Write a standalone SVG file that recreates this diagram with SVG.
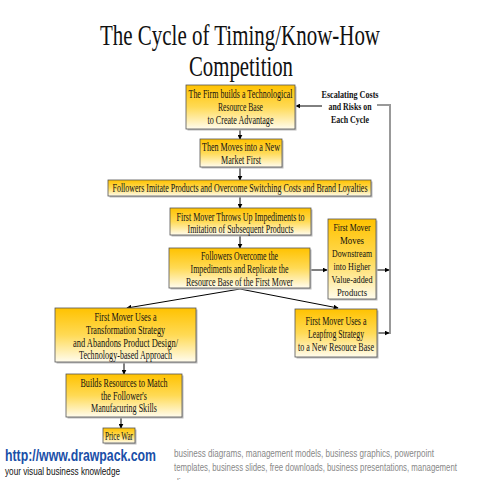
<svg xmlns="http://www.w3.org/2000/svg" width="480" height="480" viewBox="0 0 480 480">
<defs>
<linearGradient id="g" x1="0" y1="0" x2="0" y2="1">
<stop offset="0" stop-color="#FFC200"/>
<stop offset="0.5" stop-color="#FFDA55"/>
<stop offset="1" stop-color="#FFFCEE"/>
</linearGradient>
<marker id="a" viewBox="0 0 8 8" refX="7" refY="4" markerWidth="5" markerHeight="5" orient="auto" markerUnits="userSpaceOnUse">
<path d="M0,0 L8,4 L0,8 z" fill="#000"/>
</marker>
</defs>
<style>
.b{fill:url(#g);stroke:#555;stroke-width:0.8}
.s{fill:#bbb}
.t{font-family:"Liberation Serif","Times New Roman",serif;font-size:11.5px;fill:#111;text-anchor:middle}
.t2{font-family:"Liberation Serif","Times New Roman",serif;font-size:11px;fill:#111;text-anchor:middle}
.lb{font-family:"Liberation Serif","Times New Roman",serif;font-size:10.5px;font-weight:bold;fill:#111;text-anchor:middle}
.c{stroke:#000;stroke-width:1;fill:none;marker-end:url(#a)}
.gl{stroke:#999;stroke-width:2;fill:none}
.f{font-family:"Liberation Sans",Arial,sans-serif;font-size:10px;fill:#888}
</style>
<rect width="480" height="480" fill="#fff"/>
<g id="title">
<text x="240" y="45" font-family="Liberation Serif,serif" font-size="30" text-anchor="middle" textLength="280" lengthAdjust="spacingAndGlyphs" fill="#111">The Cycle of Timing/Know-How</text>
<text x="241" y="76" font-family="Liberation Serif,serif" font-size="30" text-anchor="middle" textLength="104" lengthAdjust="spacingAndGlyphs" fill="#111">Competition</text>
</g>
<g id="connectors">
<polyline class="gl" points="377,105 390,105 390,334"/>
<line class="c" x1="240" y1="129" x2="240" y2="139"/>
<line class="c" x1="240" y1="167" x2="240" y2="180"/>
<line class="c" x1="240" y1="196" x2="240" y2="208"/>
<line class="c" x1="240" y1="235" x2="240" y2="248"/>
<line class="c" x1="310" y1="270" x2="327" y2="270"/>
<line class="c" x1="377" y1="270" x2="389" y2="270"/>
<line class="c" x1="377" y1="333" x2="389" y2="333"/>
<line class="c" x1="322" y1="106" x2="296" y2="106"/>
<line class="c" x1="240" y1="289" x2="127" y2="308"/>
<line class="c" x1="240" y1="289" x2="338" y2="308"/>
<line class="c" x1="124" y1="362" x2="124" y2="374"/>
<line class="c" x1="121" y1="417" x2="121" y2="428"/>
</g>
<g id="n1">
<rect class="s" x="187.5" y="86.5" width="109" height="44"/>
<rect class="b" x="186" y="85" width="109" height="44"/>
<text class="t" x="240.5" y="98" textLength="104" lengthAdjust="spacingAndGlyphs">The Firm builds a Technological</text>
<text class="t" x="240.5" y="111" textLength="45" lengthAdjust="spacingAndGlyphs">Resource Base</text>
<text class="t" x="240.5" y="124" textLength="66" lengthAdjust="spacingAndGlyphs">to Create Advantage</text>
</g>
<g id="label">
<text class="lb" x="350" y="98" textLength="57" lengthAdjust="spacingAndGlyphs">Escalating Costs</text>
<text class="lb" x="350" y="110" textLength="43" lengthAdjust="spacingAndGlyphs">and Risks on</text>
<text class="lb" x="350" y="123" textLength="38" lengthAdjust="spacingAndGlyphs">Each Cycle</text>
</g>
<g id="n2">
<rect class="s" x="201.5" y="140.5" width="82" height="28"/>
<rect class="b" x="200" y="139" width="82" height="28"/>
<text class="t" x="241" y="151" textLength="78" lengthAdjust="spacingAndGlyphs">Then Moves into a New</text>
<text class="t" x="241" y="164" textLength="40" lengthAdjust="spacingAndGlyphs">Market First</text>
</g>
<g id="n3">
<rect class="s" x="109.5" y="181.5" width="263" height="16"/>
<rect class="b" x="108" y="180" width="263" height="16"/>
<text class="t" x="240" y="192" textLength="255" lengthAdjust="spacingAndGlyphs">Followers Imitate Products and Overcome Switching Costs and Brand Loyalties</text>
</g>
<g id="n4">
<rect class="s" x="171.5" y="209.5" width="141" height="27"/>
<rect class="b" x="170" y="208" width="141" height="27"/>
<text class="t" x="240.5" y="221" textLength="128" lengthAdjust="spacingAndGlyphs">First Mover Throws Up Impediments to</text>
<text class="t" x="240.5" y="233" textLength="106" lengthAdjust="spacingAndGlyphs">Imitation of Subsequent Products</text>
</g>
<g id="n5">
<rect class="s" x="170.5" y="249.5" width="141" height="40"/>
<rect class="b" x="169" y="248" width="141" height="40"/>
<text class="t" x="239.5" y="260" textLength="77" lengthAdjust="spacingAndGlyphs">Followers Overcome the</text>
<text class="t" x="239.5" y="273" textLength="98" lengthAdjust="spacingAndGlyphs">Impediments and Replicate the</text>
<text class="t" x="239.5" y="286" textLength="107" lengthAdjust="spacingAndGlyphs">Resource Base of the First Mover</text>
</g>
<g id="n6">
<rect class="s" x="329.5" y="220.5" width="48" height="80"/>
<rect class="b" x="328" y="219" width="48" height="80"/>
<text class="t2" x="352" y="231" textLength="37" lengthAdjust="spacingAndGlyphs">First Mover</text>
<text class="t2" x="352" y="244" textLength="24" lengthAdjust="spacingAndGlyphs">Moves</text>
<text class="t2" x="352" y="257" textLength="40" lengthAdjust="spacingAndGlyphs">Downstream</text>
<text class="t2" x="352" y="270" textLength="37" lengthAdjust="spacingAndGlyphs">into Higher</text>
<text class="t2" x="352" y="283" textLength="41" lengthAdjust="spacingAndGlyphs">Value-added</text>
<text class="t2" x="352" y="296" textLength="30" lengthAdjust="spacingAndGlyphs">Products</text>
</g>
<g id="n7">
<rect class="s" x="296.5" y="310.5" width="82" height="48"/>
<rect class="b" x="295" y="309" width="82" height="48"/>
<text class="t" x="336" y="325" textLength="61" lengthAdjust="spacingAndGlyphs">First Mover Uses a</text>
<text class="t" x="336" y="338" textLength="56" lengthAdjust="spacingAndGlyphs">Leapfrog Strategy</text>
<text class="t" x="336" y="351" textLength="76" lengthAdjust="spacingAndGlyphs">to a New Resouce Base</text>
</g>
<g id="n8">
<rect class="s" x="56.5" y="309.5" width="141" height="54"/>
<rect class="b" x="55" y="308" width="141" height="54"/>
<text class="t" x="125.5" y="321" textLength="62" lengthAdjust="spacingAndGlyphs">First Mover Uses a</text>
<text class="t" x="125.5" y="334" textLength="79" lengthAdjust="spacingAndGlyphs">Transformation Strategy</text>
<text class="t" x="125.5" y="347" textLength="105" lengthAdjust="spacingAndGlyphs">and Abandons Product Design/</text>
<text class="t" x="125.5" y="359" textLength="93" lengthAdjust="spacingAndGlyphs">Technology-based Approach</text>
</g>
<g id="n9">
<rect class="s" x="67.5" y="375.5" width="116" height="43"/>
<rect class="b" x="66" y="374" width="116" height="43"/>
<text class="t" x="124" y="387" textLength="87" lengthAdjust="spacingAndGlyphs">Builds Resources to Match</text>
<text class="t" x="124" y="400" textLength="46" lengthAdjust="spacingAndGlyphs">the Follower's</text>
<text class="t" x="124" y="412" textLength="66" lengthAdjust="spacingAndGlyphs">Manufacuring Skills</text>
</g>
<g id="n10">
<rect class="s" x="104.5" y="429.5" width="32" height="15"/>
<rect class="b" x="103" y="428" width="32" height="15"/>
<text class="t" x="119" y="440" textLength="28" lengthAdjust="spacingAndGlyphs">Price War</text>
</g>
<g id="footer">
<text x="5" y="461" font-family="Liberation Sans,Arial,sans-serif" font-size="16" font-weight="bold" fill="#1a4fa8" textLength="151" lengthAdjust="spacingAndGlyphs">http://www.drawpack.com</text>
<text x="5" y="475" font-family="Liberation Sans,Arial,sans-serif" font-size="11" fill="#111" textLength="115" lengthAdjust="spacingAndGlyphs">your visual business knowledge</text>
<text class="f" x="174" y="457" textLength="260" lengthAdjust="spacingAndGlyphs">business diagrams, management models, business graphics, powerpoint</text>
<text class="f" x="174" y="471" textLength="283" lengthAdjust="spacingAndGlyphs">templates, business slides, free downloads, business presentations, management</text>
<text class="f" x="174" y="486" textLength="36" lengthAdjust="spacingAndGlyphs">diagrams</text>
</g>
</svg>
